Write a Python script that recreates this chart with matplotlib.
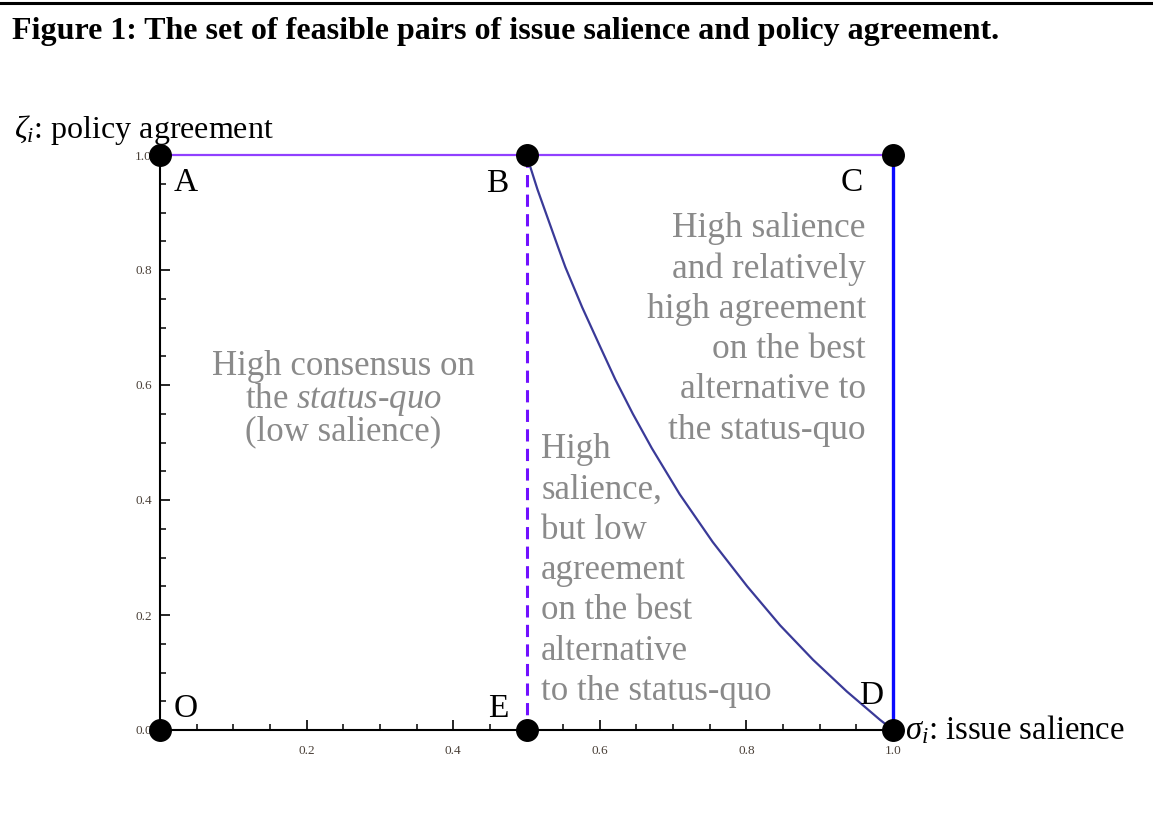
import matplotlib.pyplot as plt
from matplotlib.ticker import MultipleLocator, FixedLocator

# corner points of the feasible set
point_names = ["O", "E", "D", "A", "B", "C"]
point_sigma = [0.0, 0.5, 1.0, 0.0, 0.5, 1.0]
point_zeta = [0.0, 0.0, 0.0, 1.0, 1.0, 1.0]

# boundary curve B -> D
curve_sigma = [0.5, 0.505, 0.515, 0.529, 0.543, 0.553, 0.576, 0.6, 0.621, 0.645, 0.671,
               0.709, 0.754, 0.801, 0.846, 0.891, 0.937, 0.982, 1.0]
curve_zeta = [1.0, 0.98, 0.94, 0.89, 0.84, 0.805, 0.735, 0.668, 0.61, 0.55, 0.49,
              0.41, 0.327, 0.25, 0.182, 0.122, 0.067, 0.018, 0.0]

x_ticks = [0.2, 0.4, 0.6, 0.8, 1.0]
y_ticks = [0.0, 0.2, 0.4, 0.6, 0.8, 1.0]

plt.rcParams["font.family"] = ["Liberation Serif", "DejaVu Serif"]
plt.rcParams["mathtext.fontset"] = "custom"
plt.rcParams["mathtext.rm"] = "Liberation Serif"
plt.rcParams["mathtext.it"] = "Liberation Serif:italic"
plt.rcParams["mathtext.bf"] = "Liberation Serif:bold"

fig = plt.figure(figsize=(11.53, 8.18), dpi=100)
ax = fig.add_axes([160 / 1153, 1 - 730 / 818, 733 / 1153, 575 / 818])

# top rule and title
fig.add_artist(plt.Line2D([0, 1], [1 - 2.5 / 818] * 2, color="black", lw=2.2))
fig.text(12 / 1153, 1 - 32 / 818, "Figure 1: The set of feasible pairs of issue salience and policy agreement.",
         fontsize=23, fontweight="bold", va="center", ha="left")

ax.set_xlim(0, 1)
ax.set_ylim(0, 1)

# boundaries
ax.plot([0, 1], [1, 1], color="#9040ff", lw=1.6, clip_on=False, zorder=2)
ax.plot([0.5, 0.5], [1, 0], color="#7010ff", lw=2.2, linestyle=(0, (4, 2.4)), clip_on=False, zorder=2)
ax.plot([1, 1], [1, 0], color="#0a0aff", lw=2.4, clip_on=False, zorder=2)
ax.plot(curve_sigma, curve_zeta, color="#3a3a98", lw=1.6, clip_on=False, zorder=2)

ax.plot(point_sigma, point_zeta, "o", color="black", markersize=15.5, clip_on=False, zorder=5)

label_pos = {"O": (0.035, 0.037), "E": (0.461, 0.037), "D": (0.970, 0.059),
             "A": (0.035, 0.951), "B": (0.460, 0.950), "C": (0.944, 0.951)}
for name in point_names:
    lx, ly = label_pos[name]
    ax.text(lx, ly, name, fontsize=24, ha="center", va="center", color="black", zorder=6)

grey = "#8a8a8a"
left_lines = ["High consensus on", r"the $\mathit{status}$-$\mathit{quo}$", "(low salience)"]
for i, line in enumerate(left_lines):
    ax.text(0.25, (730 - (367 + 32.5 * i)) / 575, line, fontsize=25, color=grey, ha="center", va="center")

ax.text(0.52, 0.277, "High\nsalience,\nbut low\nagreement\non the best\nalternative\nto the status-quo",
        fontsize=25, color=grey, ha="left", va="center", linespacing=1.29)
ax.text(0.963, 0.697, "High salience\nand relatively\nhigh agreement\non the best\nalternative to\nthe status-quo",
        fontsize=25.5, color=grey, ha="right", va="center", multialignment="right", linespacing=1.29)

# axis labels
ax.text(1.016, 0.0, r"$\sigma_i$: issue salience", fontsize=23.5, ha="left", va="center", clip_on=False)
ax.text(-0.199, 1.043, r"$\zeta_i$: policy agreement", fontsize=23, ha="left", va="center", clip_on=False)

# spines and ticks
for s in ["top", "right"]:
    ax.spines[s].set_visible(False)
for s in ["left", "bottom"]:
    ax.spines[s].set_linewidth(1.5)
ax.xaxis.set_major_locator(FixedLocator(x_ticks))
ax.yaxis.set_major_locator(FixedLocator(y_ticks))
ax.xaxis.set_minor_locator(MultipleLocator(0.05))
ax.yaxis.set_minor_locator(MultipleLocator(0.05))
ax.set_xticklabels([f"{t:.1f}" for t in x_ticks])
ax.set_yticklabels([f"{t:.1f}" for t in y_ticks])
ax.tick_params(which="major", direction="in", length=7, width=1.2, labelsize=9.5, labelcolor="#4a4038")
ax.tick_params(axis="x", which="major", pad=11)
ax.tick_params(axis="y", which="major", pad=6)
ax.tick_params(which="minor", direction="in", length=4.5, width=1.1)

fig.savefig("out.png", dpi=100)
